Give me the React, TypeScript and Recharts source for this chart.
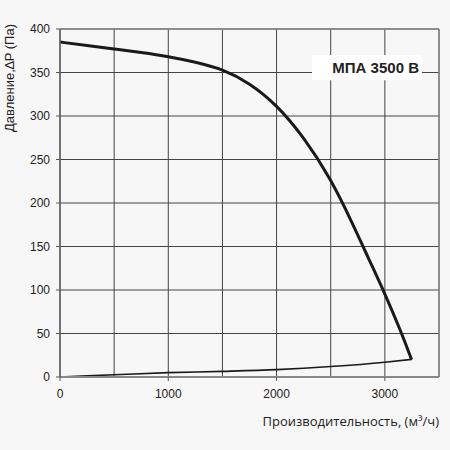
import { CartesianGrid, Label, Line, LineChart, ReferenceArea, ReferenceLine, XAxis, YAxis } from 'recharts';

// fan curve (flow m3/h -> pressure Pa)
const flowMain = [0, 250, 500, 750, 1000, 1250, 1500, 1750, 2000, 2250, 2500, 2700, 2850, 3000, 3150, 3247];
const pressureMain = [385, 381, 377, 373, 368.5, 362, 354, 338, 313, 276, 228, 177, 136, 96, 52, 20];

// system curve
const flowSystem = [0, 500, 1000, 1500, 2000, 2500, 3000, 3247];
const pressureSystem = [0, 2.5, 5, 6.5, 8.5, 12, 17, 20.3];

const xTicks = [0, 1000, 2000, 3000];
const xGrid = [0, 500, 1000, 1500, 2000, 2500, 3000, 3500];
const yTicks = [0, 50, 100, 150, 200, 250, 300, 350, 400];

const modelName = 'МПА 3500 В';
const xTitle = 'Производительность, (м³/ч)';
const yTitle = 'Давление,∆P (Па)';

const mainData = flowMain.map((x, i) => ({ x, y: pressureMain[i] }));
const systemData = flowSystem.map((x, i) => ({ x, y: pressureSystem[i] }));

const font = '"Liberation Sans", Arial, sans-serif';

export default function App() {
  return (
    <div style={{ position: 'absolute', left: 0, top: 0, width: 450, height: 450, background: '#f7f7f7' }}>
      <LineChart width={450} height={450} margin={{ top: 29, right: 11, left: 0, bottom: 0 }}>
        <CartesianGrid stroke="#444" strokeWidth={1} verticalValues={xGrid} horizontalValues={yTicks} />
        <ReferenceArea x1={2327} x2={3343} y1={341} y2={370} fill="#fff" fillOpacity={1} stroke="none">
          <Label
            value={modelName}
            position="insideRight"
            offset={3}
            style={{ fontFamily: font, fontSize: 15, fontWeight: 'bold', fill: '#222' }}
          />
        </ReferenceArea>
        <ReferenceLine y={400} stroke="#888" strokeWidth={1.5} />
        <ReferenceLine x={3500} stroke="#888" strokeWidth={1.5} />
        <XAxis
          type="number"
          dataKey="x"
          domain={[0, 3500]}
          ticks={xTicks}
          allowDataOverflow
          height={73}
          tickSize={4}
          tickMargin={8}
          stroke="#888"
          axisLine={{ stroke: '#888', strokeWidth: 2 }}
          tickLine={{ stroke: '#555' }}
          tick={{ fill: '#222', fontSize: 12, fontFamily: font }}
        >
          <Label
            content={({ viewBox }: any) => (
              <text
                x={viewBox.x + viewBox.width}
                y={viewBox.y + 49}
                textAnchor="end"
                fill="#222"
                style={{ fontFamily: '"Open Sans", sans-serif', fontSize: 13 }}
              >
                {xTitle}
              </text>
            )}
          />
        </XAxis>
        <YAxis
          type="number"
          domain={[0, 400]}
          ticks={yTicks}
          width={60}
          tickSize={4}
          tickMargin={6}
          axisLine={{ stroke: '#666', strokeWidth: 1.5 }}
          tickLine={{ stroke: '#555' }}
          tick={{ fill: '#222', fontSize: 12, fontFamily: font }}
        >
          <Label
            content={({ viewBox }: any) => (
              <text
                x={viewBox.x + 14}
                y={viewBox.y + 49}
                textAnchor="middle"
                fill="#222"
                transform={`rotate(-90, ${viewBox.x + 14}, ${viewBox.y + 49})`}
                style={{ fontFamily: font, fontSize: 13 }}
              >
                {yTitle}
              </text>
            )}
          />
        </YAxis>
        <Line
          data={systemData}
          dataKey="y"
          type="monotone"
          stroke="#1a1a1a"
          strokeWidth={1.6}
          dot={false}
          isAnimationActive={false}
        />
        <Line
          data={mainData}
          dataKey="y"
          type="basis"
          stroke="#1a1a1a"
          strokeWidth={3}
          dot={false}
          isAnimationActive={false}
        />
      </LineChart>
    </div>
  );
}
